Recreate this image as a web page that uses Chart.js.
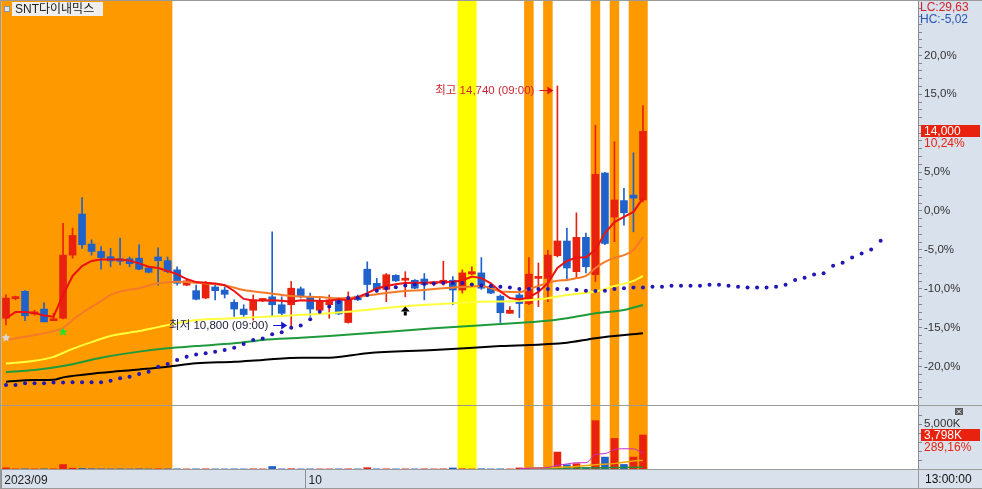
<!DOCTYPE html>
<html>
<head>
<meta charset="utf-8">
<script src="https://cdn.jsdelivr.net/npm/chart.js@4.4.0/dist/chart.umd.min.js"></script>
<style>
  html, body { margin: 0; padding: 0; }
  body { width: 982px; height: 489px; background: #d9e1ec; position: relative; overflow: hidden; }
  #main { position: absolute; left: 0; top: 0; }
  #vol { position: absolute; left: 0; top: 406px; }
</style>
</head>
<body>
<canvas id="main" width="982" height="406"></canvas>
<canvas id="vol" width="982" height="83"></canvas>
<script>
// ---- data (prices in won, volume in thousand shares) ----
const stockName = 'SNT다이내믹스'
const basePrice = 12700          // 0,0% line of the right axis
const lastPct = 10.24
const lastVolPct = 289.16

const opens  = [10950, 11270, 11390, 11020, 11100, 10910, 10950, 11980, 12650, 12160,
                12040, 11955, 11920, 11920, 11930, 11770, 11950, 11890, 11740, 11490,
                11400, 11280, 11460, 11410, 11210, 11100, 11080, 11240, 11300, 11170,
                11170, 11430, 11300, 11080, 11170, 11260, 10880, 11310, 11750, 11520,
                11420, 11650, 11570, 11570, 11590, 11510, 11520, 11570, 11410, 11670,
                11690, 11470, 11310, 11030, 11330, 11190, 11600, 11600, 11970, 12210,
                11710, 12270, 11660, 13320, 12600, 12870, 12960, 12880]
const highs  = [11330, 11310, 11400, 11080, 11200, 11030, 12500, 12420, 12920, 12230,
                12120, 12090, 12260, 11950, 12150, 11800, 12100, 11950, 11790, 11570,
                11490, 11550, 11520, 11460, 11250, 11170, 11330, 11270, 12360, 11300,
                11550, 11460, 11360, 11280, 11330, 11280, 11380, 11330, 11870, 11600,
                11680, 11660, 11710, 11580, 11680, 11540, 11880, 11630, 11740, 11790,
                11940, 11520, 11330, 11140, 11380, 11940, 11850, 12060, 14740, 12420,
                12670, 12340, 14100, 13330, 13830, 13070, 13650, 14420]
const lows   = [10840, 11250, 10910, 11000, 10890, 10910, 10940, 11930, 12090, 11980,
                11750, 11790, 11820, 11790, 11740, 11690, 11490, 11690, 11490, 11480,
                11250, 11270, 11250, 11280, 10980, 10980, 10920, 11220, 10980, 10980,
                10800, 11280, 10980, 11030, 10950, 11010, 10870, 11240, 11300, 11380,
                11220, 11550, 11300, 11430, 11250, 11480, 11490, 11170, 11360, 11660,
                11420, 11350, 10880, 11030, 10960, 11170, 11140, 11220, 11950, 11570,
                11600, 11690, 11550, 12150, 12200, 12470, 12360, 12850]
const closes = [11280, 11300, 10990, 11050, 10890, 10930, 11980, 12300, 12150, 12040,
                11940, 11885, 11880, 11840, 11750, 11700, 11890, 11710, 11520, 11560,
                11260, 11530, 11400, 11340, 11100, 11010, 11250, 11250, 11170, 11030,
                11440, 11300, 11100, 11220, 11250, 11020, 11290, 11250, 11500, 11420,
                11660, 11560, 11580, 11440, 11500, 11520, 11570, 11410, 11690, 11710,
                11440, 11360, 11040, 11080, 11190, 11670, 11620, 11980, 12210, 11770,
                12270, 11790, 13300, 12170, 12880, 12670, 12910, 14000]
const volumes = [130, 15, 20, 10, 15, 20, 500, 90, 60, 30,
                 20, 15, 20, 10, 20, 10, 20, 15, 20, 10,
                 15, 20, 10, 10, 15, 10, 20, 10, 280, 15,
                 30, 10, 15, 10, 10, 15, 20, 10, 150, 15,
                 20, 10, 15, 10, 20, 10, 20, 120, 30, 10,
                 30, 10, 20, 10, 120, 60, 40, 200, 1890, 475,
                 590, 150, 5400, 1330, 3410, 510, 1330, 3798]

// moving averages
const ma5 = [10950, 11050, 11050, 11035, 10995, 10975, 11330, 11640, 11800, 11885,
             11910, 11910, 11910, 11890, 11845, 11790, 11770, 11720, 11670, 11590,
             11540, 11530, 11515, 11490, 11395, 11265, 11240, 11240, 11245, 11235,
             11220, 11245, 11240, 11230, 11235, 11260, 11245, 11295, 11360, 11435,
             11475, 11505, 11525, 11530, 11530, 11535, 11540, 11545, 11565, 11630,
             11605, 11520, 11385, 11280, 11255, 11290, 11380, 11525, 11770, 11885,
             11940, 11945, 12065, 12340, 12520, 12605, 12685, 12910]
const ma10Idx = [0, 3, 5, 6, 7, 8, 9, 10, 11, 12, 14, 16, 18, 19, 21, 23, 25, 27, 29, 31,
                 33, 35, 36, 37, 38, 40, 42, 44, 46, 48, 50, 51, 52, 53, 54, 55, 56, 57, 58, 59,
                 60, 61, 62, 63, 64, 65, 66, 67]
const ma10 = [10595, 10675, 10740, 10790, 10920, 11035, 11135, 11230, 11330, 11385,
              11440, 11520, 11545, 11540, 11515, 11490, 11410, 11370, 11330, 11305,
              11295, 11275, 11280, 11295, 11320, 11360, 11395, 11410, 11440, 11460,
              11475, 11440, 11385, 11380, 11375, 11425, 11475, 11525, 11560, 11575,
              11605, 11640, 11770, 11870, 11935, 11980, 12065, 12275]
const ma20Idx = [0, 3, 5, 7, 9, 11, 14, 16, 18, 20, 24, 28, 31, 34, 36, 41, 47, 50, 53, 55, 57, 59, 62, 64, 66, 67]
const ma20 = [10210, 10255, 10320, 10450, 10560, 10660, 10740, 10805, 10870, 10920, 10950, 10980, 11005,
              11030, 11055, 11135, 11195, 11220, 11225, 11245, 11275, 11330, 11385, 11475, 11560, 11640]
const ma60Idx = [0, 3, 6, 10, 14, 17, 20, 24, 27, 31, 34, 38, 45, 52, 56, 59, 62, 65, 67]
const ma60 = [10070, 10105, 10170, 10305, 10405, 10460, 10495, 10540, 10595, 10630,
              10660, 10705, 10785, 10855, 10895, 10950, 11030, 11085, 11165]
const ma120Idx = [0, 3, 5, 6, 10, 14, 17, 20, 24, 27, 31, 34, 38, 45, 52, 59, 62, 67]
const ma120 = [9915, 9940, 9945, 9985, 10060, 10115, 10160, 10215, 10240, 10270,
               10305, 10305, 10380, 10430, 10495, 10550, 10625, 10705]
// dotted series, runs 25 bars past the last candle
const sar = [9860, 9860, 9890, 9890, 9890, 9900, 9900, 9905, 9905, 9905,
             9905, 9930, 9970, 9995, 10040, 10075, 10160, 10205, 10270, 10320,
             10360, 10380, 10405, 10430, 10470, 10530, 10595, 10620, 10690, 10720,
             10795, 10830, 10935, 11055, 11140, 11215, 11280, 11285, 11330, 11400,
             11440, 11455, 11485, 11500, 11510, 11515, 11525, 11525, 11525, 11500,
             11485, 11475, 11465, 11450, 11425, 11425, 11425, 11425, 11425, 11425,
             11410, 11400, 11395, 11400, 11425, 11440, 11450, 11450,
             11465, 11465, 11480, 11480, 11480, 11480, 11495, 11495, 11480, 11465,
             11450, 11450, 11450, 11465, 11495, 11575, 11610, 11665, 11685, 11805,
             11855, 11940, 12005, 12070, 12215]

// volume averages
const vma5Idx = [54, 55, 56, 57, 58, 59, 60, 61, 62, 63, 64, 65, 66, 67]
const vma5 = [40, 80, 110, 150, 420, 560, 700, 700, 1620, 1720, 2170, 2260, 2250, 1750]
const vma20Idx = [55, 58, 60, 62, 64, 66, 67]
const vma20 = [70, 180, 280, 470, 600, 900, 960]
const vma60Idx = [55, 60, 64, 67]
const vma60 = [70, 110, 160, 200]

// signal bars (background columns)
const orangeMarks = [0, 1, 2, 3, 4, 5, 6, 7, 8, 9, 10, 11, 12, 13, 14, 15, 16, 17, 55, 57, 62, 64, 66, 67]
const yellowMarks = [48, 49]
const signals = [
  { i: 0, p: 10630, kind: 'star', color: '#d6d6d6' },
  { i: 6, p: 10725, kind: 'star', color: '#2be02b' },
  { i: 42, p: 11076, kind: 'arrow', color: '#000000' }
]

// axes
const pctTicks = []
for (let k = -24; k <= 26; k++) pctTicks.push(k)
const pctLabelMax = 20
const volTicks = [1000, 2000, 3000, 4000, 5000, 6000]
const xTickPos = [-0.5, 31.5]
const xTickLabels = ['2023/09', '10']
const xMin = -0.526, xMax = 95.93
const yMin = 9534, yMax = 16127
const volMax = 7037

// ---- helpers ----
const FONT = "'Liberation Sans','Noto Sans CJK KR',sans-serif"
Chart.defaults.font.family = FONT
const UP = '#e8220f', DOWN = '#1f62cc'
const fmt = v => v.toLocaleString('en-US')
const pairs = (xs, ys) => xs.map((x, k) => ({ x, y: ys[k] }))
const seq = arr => arr.map((y, x) => ({ x, y }))
const candleColors = opens.map((o, i) => closes[i] >= o ? UP : DOWN)
const volColors = volumes.map((_, i) => i === 0 || closes[i] >= closes[i - 1] ? UP : DOWN)

function runsOf(marks) {
  const out = []
  ;[...marks].sort((a, b) => a - b).forEach(v => {
    const last = out[out.length - 1]
    if (last && v === last[1] + 1) last[1] = v
    else out.push([v, v])
  })
  return out
}

const panelPlugin = {
  id: 'panel',
  beforeDraw(chart) {
    const { ctx, chartArea: a } = chart
    ctx.save()
    ctx.fillStyle = '#ffffff'
    ctx.fillRect(a.left, a.top, a.right - a.left, a.bottom - a.top)
    ctx.restore()
  },
  beforeDatasetsDraw(chart) {
    const { ctx, chartArea: a, scales: { x } } = chart
    ctx.save()
    ctx.beginPath()
    ctx.rect(a.left, a.top, a.right - a.left, a.bottom - a.top)
    ctx.clip()
    const fill = (marks, color) => runsOf(marks).forEach(([s, e]) => {
      const x0 = x.getPixelForValue(s - 0.5), x1 = x.getPixelForValue(e + 0.5)
      ctx.fillStyle = color
      ctx.fillRect(x0, a.top, x1 - x0, a.bottom - a.top)
    })
    fill(orangeMarks, '#ff9900')
    fill(yellowMarks, '#ffff00')
    ctx.restore()
  }
}

function star(ctx, cx, cy, r, color) {
  ctx.beginPath()
  for (let k = 0; k < 10; k++) {
    const rr = k % 2 ? r * 0.5 : r
    const an = -Math.PI / 2 + k * Math.PI / 5
    ctx.lineTo(cx + rr * Math.cos(an), cy + rr * Math.sin(an))
  }
  ctx.closePath()
  ctx.fillStyle = color
  ctx.fill()
}

const mainPlugin = {
  id: 'mainDeco',
  afterDatasetsDraw(chart) {
    const { ctx, scales: { x, y } } = chart
    ctx.save()
    // signals
    signals.forEach(s => {
      const cx = x.getPixelForValue(s.i), cy = y.getPixelForValue(s.p)
      if (s.kind === 'star') star(ctx, cx, cy, 4.5, s.color)
      else {
        ctx.fillStyle = s.color
        ctx.beginPath()
        ctx.moveTo(cx, cy - 4)
        ctx.lineTo(cx + 4.5, cy + 1)
        ctx.lineTo(cx - 4.5, cy + 1)
        ctx.closePath()
        ctx.fill()
        ctx.fillRect(cx - 1.5, cy + 1, 3, 4)
      }
    })
    // high / low notes
    const note = (i, price, dy, label, textColor, arrowColor) => {
      const px = x.getPixelForValue(i) - 4, py = Math.round(y.getPixelForValue(price) + dy) + 0.5
      ctx.strokeStyle = arrowColor
      ctx.fillStyle = arrowColor
      ctx.lineWidth = 1
      ctx.beginPath(); ctx.moveTo(px - 14, py); ctx.lineTo(px - 3, py); ctx.stroke()
      ctx.beginPath(); ctx.moveTo(px, py); ctx.lineTo(px - 6, py - 4); ctx.lineTo(px - 6, py + 4); ctx.closePath(); ctx.fill()
      ctx.font = '11.5px ' + FONT
      ctx.textAlign = 'right'
      ctx.textBaseline = 'middle'
      ctx.fillStyle = textColor
      ctx.fillText(label, px - 19, py)
    }
    const hi = Math.max(...highs), lo = Math.min(...lows)
    note(highs.indexOf(hi), hi, 4, '최고 ' + fmt(hi) + ' (09:00)', '#cc2530', '#e01010')
    note(lows.indexOf(lo), lo, -2, '최저 ' + fmt(lo) + ' (09:00)', '#1c1c3a', '#1515d0')
    ctx.restore()
  },
  afterDraw(chart) {
    const { ctx, chartArea: a, scales: { y } } = chart
    ctx.save()
    ctx.strokeStyle = '#9a9a9a'
    ctx.lineWidth = 1
    ctx.beginPath()
    ctx.moveTo(0, 0.5); ctx.lineTo(982, 0.5)
    ctx.moveTo(0.5, 0); ctx.lineTo(0.5, 406)
    ctx.moveTo(0, 405.5); ctx.lineTo(982, 405.5)
    ctx.stroke()
    // title
    ctx.fillStyle = '#eeeeee'
    ctx.fillRect(12, 2, 91, 14)
    ctx.fillStyle = '#dfe3ea'; ctx.fillRect(4.5, 6.5, 5, 5)
    ctx.strokeStyle = '#8a96a8'; ctx.strokeRect(4.5, 6.5, 5, 5)
    ctx.font = '12px ' + FONT
    ctx.textBaseline = 'middle'
    ctx.textAlign = 'left'
    ctx.fillStyle = '#222'
    ctx.fillText(stockName, 15, 9.5)
    // axis notes
    ctx.fillStyle = '#d2232a'; ctx.fillText('LC:29,63', a.right + 2, 8)
    ctx.fillStyle = '#2456b5'; ctx.fillText('HC:-5,02', a.right + 2, 20)
    const last = closes[closes.length - 1]
    const yc = Math.round(y.getPixelForValue(last))
    ctx.fillStyle = '#e8220f'
    ctx.fillRect(a.right + 3, yc - 6, 59, 12)
    ctx.fillStyle = '#ffffff'
    ctx.fillText(fmt(last), a.right + 6, yc + 0.5)
    ctx.fillStyle = '#e8220f'
    ctx.fillText(lastPct.toFixed(2).replace('.', ',') + '%', a.right + 6, yc + 12.5)
    ctx.restore()
  }
}

const volPlugin = {
  id: 'volDeco',
  afterDraw(chart) {
    const { ctx, chartArea: a, scales: { y } } = chart
    ctx.save()
    ctx.strokeStyle = '#9a9a9a'
    ctx.lineWidth = 1
    ctx.beginPath()
    ctx.moveTo(0.5, 0); ctx.lineTo(0.5, 83)
    ctx.moveTo(a.right + 0.5, a.bottom); ctx.lineTo(a.right + 0.5, 83)
    ctx.moveTo(0, a.bottom + 0.5); ctx.lineTo(982, a.bottom + 0.5)
    ctx.moveTo(0, 82.5); ctx.lineTo(982, 82.5)
    ctx.stroke()
    ctx.font = '12px ' + FONT
    ctx.textBaseline = 'middle'
    ctx.textAlign = 'left'
    const lastV = volumes[volumes.length - 1]
    const yc = Math.round(y.getPixelForValue(lastV))
    ctx.fillStyle = '#e8220f'
    ctx.fillRect(a.right + 3, yc - 6, 59, 12)
    ctx.fillStyle = '#ffffff'
    ctx.fillText(fmt(lastV) + 'K', a.right + 6, yc + 0.5)
    ctx.fillStyle = '#e8220f'
    ctx.fillText(lastVolPct.toFixed(2).replace('.', ',') + '%', a.right + 6, yc + 12.5)
    ctx.fillStyle = '#111'
    ctx.fillText('13:00:00', a.right + 7, a.bottom + 10.5)
    // close box
    ctx.fillStyle = '#5a5a5a'
    ctx.fillRect(955, 2, 8, 7)
    ctx.strokeStyle = '#ffffff'
    ctx.beginPath()
    ctx.moveTo(957, 3.5); ctx.lineTo(961, 7.5)
    ctx.moveTo(961, 3.5); ctx.lineTo(957, 7.5)
    ctx.stroke()
    ctx.restore()
  }
}

// keep the plot edges where they are: no padding for edge labels
const fixY = s => { s.width = 64; s.paddingTop = 0; s.paddingBottom = 0 }
const fixX = s => { s.height = 20; s.paddingLeft = 0; s.paddingRight = 0 }

const xScale = (display) => ({
  type: 'linear', min: xMin, max: xMax, offset: false, bounds: 'data', display,
  grid: { offset: false }
})

const lineDs = (data, color, order, extra) => Object.assign({
  type: 'line', data, borderColor: color, borderWidth: 2, pointRadius: 0,
  cubicInterpolationMode: 'monotone', order
}, extra || {})

new Chart(document.getElementById('main'), {
  type: 'bar',
  data: {
    datasets: [
      lineDs(seq(sar), '#2217b4', 0, { showLine: false, pointRadius: 2, pointBackgroundColor: '#2217b4', pointBorderWidth: 0 }),
      lineDs(seq(ma5), '#ec1212', 1, { cubicInterpolationMode: 'default', tension: 0 }),
      lineDs(pairs(ma10Idx, ma10), '#f57a28', 2),
      lineDs(pairs(ma20Idx, ma20), '#ffff3a', 3),
      lineDs(pairs(ma60Idx, ma60), '#1f9a3c', 4),
      lineDs(pairs(ma120Idx, ma120), '#000000', 5),
      {
        type: 'bar', order: 10, grouped: false, barThickness: 7, minBarLength: 2,
        data: opens.map((o, i) => ({ x: i, y: [o, closes[i]] })),
        backgroundColor: candleColors, borderWidth: 0
      },
      {
        type: 'bar', order: 11, grouped: false, barThickness: 1,
        data: opens.map((o, i) => ({ x: i, y: [lows[i], highs[i]] })),
        backgroundColor: candleColors, borderWidth: 0
      }
    ]
  },
  options: {
    responsive: false,
    animation: false,
    events: [],
    layout: { autoPadding: false, padding: { left: 1, top: 1, right: 0, bottom: 1 } },
    plugins: { legend: { display: false }, tooltip: { enabled: false } },
    scales: {
      x: xScale(false),
      y: {
        type: 'linear', position: 'right', min: yMin, max: yMax, bounds: 'data',
        afterFit: fixY,
        afterBuildTicks: s => {
          s.ticks = pctTicks.map(k => ({ value: basePrice * (1 + k / 100) }))
            .filter(t => t.value >= s.min && t.value <= s.max)
        },
        grid: { drawOnChartArea: false, tickLength: 4, color: '#7d8896' },
        border: { display: true, color: '#8c8c8c' },
        ticks: {
          autoSkip: false, padding: 2, color: '#333', font: { size: 11.5 },
          callback: v => {
            const k = Math.round((v / basePrice - 1) * 100)
            return k % 5 === 0 && Math.abs(k) <= pctLabelMax ? k.toFixed(1).replace('.', ',') + '%' : ''
          }
        }
      }
    }
  },
  plugins: [panelPlugin, mainPlugin]
})

new Chart(document.getElementById('vol'), {
  type: 'bar',
  data: {
    datasets: [
      lineDs(pairs(vma5Idx, vma5), '#c82ac8', 0, { borderWidth: 1 }),
      lineDs(pairs(vma20Idx, vma20), '#f0a800', 1, { borderWidth: 1.5 }),
      lineDs(pairs(vma60Idx, vma60), '#23913a', 2, { borderWidth: 1.5 }),
      {
        type: 'bar', order: 10, grouped: false, barThickness: 7,
        data: volumes.map((v, i) => ({ x: i, y: v })),
        backgroundColor: volColors, borderWidth: 0
      }
    ]
  },
  options: {
    responsive: false,
    animation: false,
    events: [],
    layout: { autoPadding: false, padding: { left: 1, top: 0, right: 0, bottom: 0 } },
    plugins: { legend: { display: false }, tooltip: { enabled: false } },
    scales: {
      x: Object.assign(xScale(true), {
        position: 'bottom',
        afterFit: fixX,
        afterBuildTicks: s => { s.ticks = xTickPos.map(v => ({ value: v })) },
        grid: { drawOnChartArea: false, tickLength: 20, color: '#8f8f8f', offset: false },
        border: { display: true, color: '#9a9a9a' },
        ticks: {
          autoSkip: false, maxRotation: 0, align: 'start', labelOffset: 3, padding: -16,
          color: '#222', font: { size: 12 },
          callback: (v, i) => xTickLabels[i]
        }
      }),
      y: {
        type: 'linear', position: 'right', min: 0, max: volMax, bounds: 'data',
        afterFit: fixY,
        afterBuildTicks: s => { s.ticks = volTicks.map(v => ({ value: v })) },
        grid: { drawOnChartArea: false, tickLength: 4, color: '#7d8896' },
        border: { display: true, color: '#8c8c8c' },
        ticks: {
          autoSkip: false, padding: 2, color: '#333', font: { size: 11.5 },
          callback: v => v === 5000 ? fmt(v) + 'K' : ''
        }
      }
    }
  },
  plugins: [panelPlugin, volPlugin]
})
</script>
</body>
</html>
